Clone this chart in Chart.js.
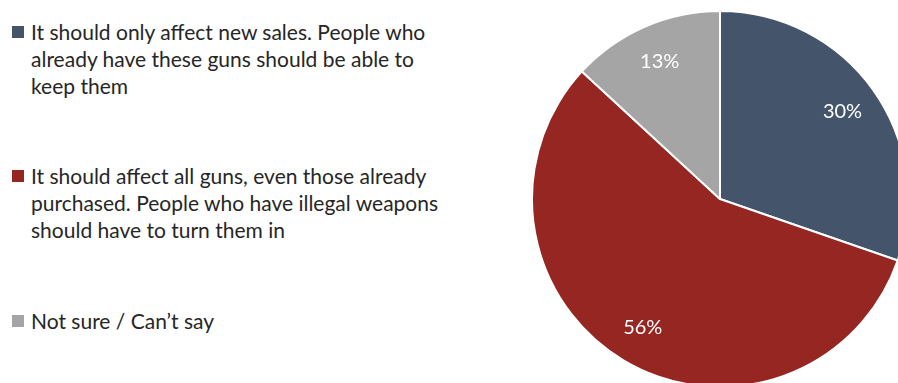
<!DOCTYPE html>
<html lang="en">
  <head>
    <meta charset="UTF-8" />
    <title>Gun ownership poll</title>
    <script src="https://cdn.jsdelivr.net/npm/chart.js"></script>
    <style>
      * {
        margin: 0;
        padding: 0;
        box-sizing: border-box;
      }

      body {
        width: 898px;
        height: 383px;
        overflow: hidden;
        background: #ffffff;
        font-family: Lato, "Open Sans", sans-serif;
        position: relative;
      }

      #legend .item {
        position: absolute;
        left: 12px;
        width: 460px;
        font-size: 21px;
        line-height: 27px;
        color: #262626;
        padding-left: 19px;
      }

      #legend .swatch {
        position: absolute;
        left: 0;
        top: 8px;
        width: 12px;
        height: 12px;
      }

      .pie-box {
        position: absolute;
        left: 531px;
        top: 10px;
        width: 378px;
        height: 378px;
      }
    </style>
  </head>
  <body>
    <div id="legend"></div>
    <div class="pie-box">
      <canvas id="pieChart" width="378" height="378"></canvas>
    </div>

    <script>
      var categories = [
        "It should only affect new sales. People who already have these guns should be able to keep them",
        "It should affect all guns, even those already purchased. People who have illegal weapons should have to turn them in",
        "Not sure / Can\u2019t say",
      ];
      // line breaks used in the legend
      var legendLines = [
        ["It should only affect new sales. People who", "already have these guns should be able to", "keep them"],
        ["It should affect all guns, even those already", "purchased. People who have illegal weapons", "should have to turn them in"],
        ["Not sure / Can\u2019t say"],
      ];
      var shares = [30, 56, 13];
      var colors = ["#44546a", "#952621", "#a5a5a5"];
      var legendTops = [18, 162, 307];

      // legend on the left
      var legend = document.getElementById("legend");
      legendLines.forEach(function (lines, i) {
        var item = document.createElement("div");
        item.className = "item";
        item.style.top = legendTops[i] + "px";
        var sw = document.createElement("span");
        sw.className = "swatch";
        sw.style.background = colors[i];
        item.appendChild(sw);
        item.insertAdjacentHTML("beforeend", lines.join("<br>"));
        legend.appendChild(item);
      });

      // percentage labels inside the slices
      var sliceLabels = {
        id: "sliceLabels",
        afterDatasetsDraw: function (chart) {
          var ctx = chart.ctx;
          var meta = chart.getDatasetMeta(0);
          ctx.save();
          ctx.fillStyle = "#ffffff";
          ctx.font = "20px Lato, sans-serif";
          ctx.textAlign = "center";
          ctx.textBaseline = "middle";
          meta.data.forEach(function (arc, i) {
            var p = arc.getProps(["x", "y", "startAngle", "endAngle", "outerRadius"], true);
            var mid = (p.startAngle + p.endAngle) / 2;
            var r = p.outerRadius * 0.8;
            ctx.fillText(shares[i] + "%", p.x + Math.cos(mid) * r, p.y + Math.sin(mid) * r);
          });
          ctx.restore();
        },
      };

      new Chart(document.getElementById("pieChart"), {
        type: "pie",
        data: {
          labels: categories,
          datasets: [
            {
              data: shares,
              backgroundColor: colors,
              borderColor: "#ffffff",
              borderWidth: 2,
            },
          ],
        },
        options: {
          responsive: false,
          animation: false,
          layout: { padding: 0 },
          plugins: {
            legend: { display: false },
            tooltip: { enabled: false },
          },
        },
        plugins: [sliceLabels],
      });
    </script>
  </body>
</html>
